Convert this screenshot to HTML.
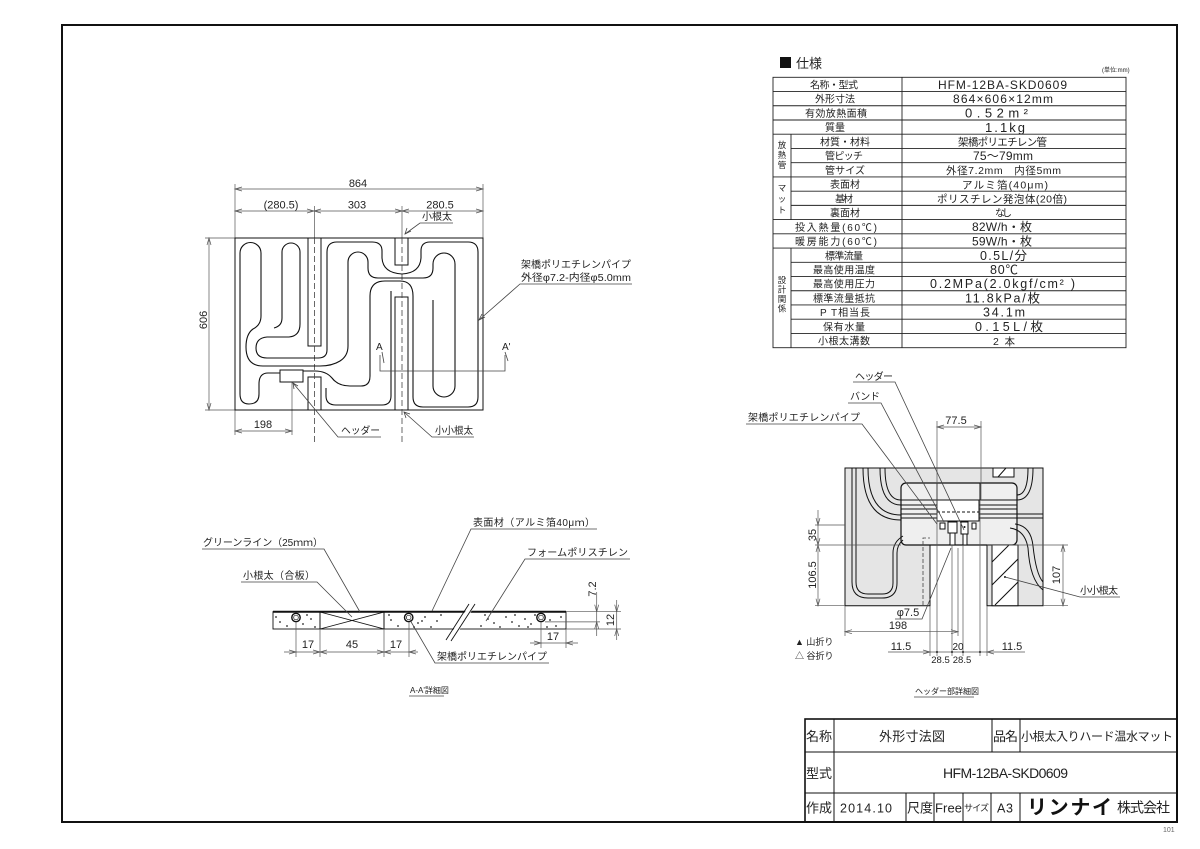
<!DOCTYPE html>
<html><head><meta charset="utf-8">
<style>
html,body{margin:0;padding:0;background:#fff;}
svg{display:block}
text{font-family:"Liberation Sans","Noto Sans CJK JP",sans-serif;fill:#222;}
.d{stroke:#555;stroke-width:0.7;fill:none}
.k{stroke:#111;stroke-width:1;fill:none}
.p{stroke:#111;stroke-width:1.1;fill:none}
.a{stroke:#444;stroke-width:0.8;fill:none}
</style></head><body>
<svg width="1200" height="849" viewBox="0 0 1200 849" xmlns="http://www.w3.org/2000/svg">
<rect x="0" y="0" width="1200" height="849" fill="#fff"/>
<!-- border -->
<rect x="62" y="25" width="1115" height="797" fill="none" stroke="#111" stroke-width="2"/>

<!-- ============ SPEC TABLE ============ -->
<rect x="780" y="57" width="11" height="11" fill="#111"/>
<text x="796" y="68" font-size="13">仕様</text>
<text x="1102" y="72" font-size="6">(単位:mm)</text>
<g stroke="#222" stroke-width="0.9" fill="none">
<rect x="773" y="77.3" width="353" height="270.4"/>
<line x1="902" y1="77.3" x2="902" y2="347.7"/>
<line x1="791" y1="134.22" x2="791" y2="219.6"/>
<line x1="791" y1="248.06" x2="791" y2="347.7"/>
<line x1="773" y1="91.53" x2="1126" y2="91.53"/>
<line x1="773" y1="105.76" x2="1126" y2="105.76"/>
<line x1="773" y1="119.99" x2="1126" y2="119.99"/>
<line x1="773" y1="134.22" x2="1126" y2="134.22"/>
<line x1="791" y1="148.45" x2="1126" y2="148.45"/>
<line x1="791" y1="162.68" x2="1126" y2="162.68"/>
<line x1="773" y1="176.91" x2="1126" y2="176.91"/>
<line x1="791" y1="191.14" x2="1126" y2="191.14"/>
<line x1="791" y1="205.37" x2="1126" y2="205.37"/>
<line x1="773" y1="219.6" x2="1126" y2="219.6"/>
<line x1="773" y1="233.83" x2="1126" y2="233.83"/>
<line x1="773" y1="248.06" x2="1126" y2="248.06"/>
<line x1="791" y1="262.29" x2="1126" y2="262.29"/>
<line x1="791" y1="276.52" x2="1126" y2="276.52"/>
<line x1="791" y1="290.75" x2="1126" y2="290.75"/>
<line x1="791" y1="304.98" x2="1126" y2="304.98"/>
<line x1="791" y1="319.21" x2="1126" y2="319.21"/>
<line x1="791" y1="333.44" x2="1126" y2="333.44"/>
</g>
<g font-size="10" lengthAdjust="spacingAndGlyphs">
<text x="810" y="88.5" textLength="48">名称・型式</text>
<text x="815" y="102.7" textLength="40">外形寸法</text>
<text x="805" y="117" textLength="62">有効放熱面積</text>
<text x="825" y="131.2" textLength="20">質量</text>
<text x="820" y="145.4" textLength="50">材質・材料</text>
<text x="825" y="159.7" textLength="38">管ピッチ</text>
<text x="825" y="173.9" textLength="40">管サイズ</text>
<text x="830" y="188.1" textLength="30">表面材</text>
<text x="835" y="202.3" textLength="18">基材</text>
<text x="830" y="216.6" textLength="30">裏面材</text>
<text x="795" y="230.8" textLength="82">投入熱量(60℃)</text>
<text x="795" y="245.1" textLength="82">暖房能力(60℃)</text>
<text x="825" y="259.3" textLength="38">標準流量</text>
<text x="813" y="273.5" textLength="62">最高使用温度</text>
<text x="813" y="287.7" textLength="62">最高使用圧力</text>
<text x="813" y="302" textLength="62">標準流量抵抗</text>
<text x="820" y="316.2" textLength="50">P T相当長</text>
<text x="823" y="330.4" textLength="42">保有水量</text>
<text x="818" y="344.7" textLength="52">小根太溝数</text>
</g>
<g font-size="8.5" text-anchor="middle">
<text x="782" y="148">放</text><text x="782" y="158">熱</text><text x="782" y="168">管</text>
<text x="782" y="191">マ</text><text x="782" y="202">ッ</text><text x="782" y="213">ト</text>
<text x="782" y="283">設</text><text x="782" y="292.5">計</text><text x="782" y="302">関</text><text x="782" y="311.5">係</text>
</g>
<g font-size="12" lengthAdjust="spacingAndGlyphs">
<text x="938" y="89" textLength="129">HFM-12BA-SKD0609</text>
<text x="953" y="103.2" textLength="100">864×606×12mm</text>
<text x="965" y="117.7" textLength="63" font-size="13">0.52m²</text>
<text x="985" y="131.9" textLength="40" font-size="13">1.1kg</text>
<text x="958" y="145.6" textLength="89" font-size="10.5">架橋ポリエチレン管</text>
<text x="973" y="160.2" textLength="60">75〜79mm</text>
<text x="946" y="174.2" textLength="115" font-size="10.5">外径7.2mm　内径5mm</text>
<text x="962" y="188.4" textLength="86" font-size="10.5">アルミ箔(40μm)</text>
<text x="937" y="202.6" textLength="130" font-size="10.5">ポリスチレン発泡体(20倍)</text>
<text x="995" y="216.7" textLength="17" font-size="10">なし</text>
<text x="972" y="231.2" textLength="60">82W/h・枚</text>
<text x="972" y="245.5" textLength="60">59W/h・枚</text>
<text x="980" y="259.8" textLength="47" font-size="12.5">0.5L/分</text>
<text x="990" y="274" textLength="28" font-size="12.5">80℃</text>
<text x="930" y="288.2" textLength="145" font-size="12.5">0.2MPa(2.0kgf/cm²  )</text>
<text x="965" y="302.5" textLength="75" font-size="12.5">11.8kPa/枚</text>
<text x="983" y="316.7" textLength="42" font-size="12.5">34.1m</text>
<text x="975" y="330.9" textLength="68" font-size="12.5">0.15L/枚</text>
<text x="993" y="345" textLength="22" font-size="10.5">2本</text>
</g>

<!-- ============ PLAN VIEW ============ -->
<g class="d">
<line x1="235" y1="184" x2="235" y2="238"/>
<line x1="483" y1="184" x2="483" y2="238"/>
<line x1="314.5" y1="206" x2="314.5" y2="238"/>
<line x1="402" y1="206" x2="402" y2="238"/>
<line x1="235" y1="189" x2="483" y2="189"/>
<line x1="235" y1="211" x2="483" y2="211"/>
<line x1="205" y1="238" x2="235" y2="238"/>
<line x1="205" y1="410" x2="235" y2="410"/>
<line x1="209" y1="238" x2="209" y2="410"/>
<line x1="235" y1="410" x2="235" y2="435"/>
<line x1="292" y1="382" x2="292" y2="435"/>
<line x1="235" y1="431" x2="292" y2="431"/>
<path d="M242,187 L235,189 L242,191 M476,187 L483,189 L476,191 M242,209 L235,211 L242,213 M307,209 L314,211 L307,213 M321,209 L314,211 L321,213 M395,209 L402,211 L395,213 M409,209 L402,211 L409,213 M476,209 L483,211 L476,213 M207,245 L209,238 L211,245 M207,403 L209,410 L211,403 M242,429 L235,431 L242,433 M285,429 L292,431 L285,433"/>
</g>
<g font-size="11" text-anchor="middle">
<text x="358" y="187">864</text>
<text x="281" y="208.5">(280.5)</text>
<text x="357" y="208.5">303</text>
<text x="440" y="208.5">280.5</text>
<text x="263" y="428">198</text>
<text transform="translate(207,320) rotate(-90)">606</text>
</g>
<rect x="235" y="238" width="248" height="172" class="k" stroke-width="1.2"/>
<g class="k">
<rect x="308" y="238" width="13" height="108"/>
<rect x="308" y="377" width="13" height="33"/>
<rect x="395" y="238" width="13" height="27"/>
<rect x="395" y="297" width="13" height="113"/>
<rect x="280" y="370" width="23" height="12" fill="#fff"/>
</g>
<g stroke="#444" stroke-width="0.8" stroke-dasharray="6,3" fill="none">
<line x1="314.5" y1="238" x2="314.5" y2="442"/>
<line x1="402" y1="238" x2="402" y2="442"/>
</g>
<g class="p">
<path d="M303,371 H315 Q326,371 332,378 Q338,386 350,386 H361 Q370,386 370,376 V296 Q370,281 385,281 H400 Q413,281 413,296 V397 Q413,407 423,407 H468 Q478,407 478,397 V252 Q478,242 468,242 H430 Q421,242 421,251 V258 Q420,273 402,274 Q383,273 382,258 V251 Q382,242 372,242 H337 Q327,242 327,252 V350 Q327,358 318,358 H267 Q256,358 256,348 Q256,338 267,337 H289 Q300,336 300,324 V252 A9,9 0 0 0 282,252 V318 Q282,326 274,328"/>
<path d="M280,373 H268 Q259,373 259,384 V394 Q259,404 249,404 Q240,404 240,394 V253 A10.5,10.5 0 0 1 261,253 V316 Q261,325 253,329 Q246,334 246,347 Q246,366 263,366 H320 Q332,366 340,361 Q348,356 348,346 V262 A10,10 0 0 1 368,262 V268 Q368,278 378,278 H423 Q433,278 433,268 V264 A11,11 0 0 1 455,264 V386 A11,11 0 0 1 433,386 V300"/>
<path d="M326,388 V396 Q326,405 336,405 H382 Q391,405 391,396 V291"/>
</g>
<!-- section mark -->
<g class="a">
<path d="M380,355 V371 H505 V355"/>
<line x1="382" y1="352" x2="384" y2="363"/>
<line x1="505" y1="352" x2="508" y2="361"/>
</g>
<text x="376" y="350" font-size="10">A</text>
<text x="502" y="350" font-size="10">A'</text>
<!-- plan leaders -->
<g class="a">
<path d="M453,223 H420 L405,234"/>
<path d="M407,228 L405,234 L411,231"/>
<path d="M632,284 H520 L479,320"/>
<path d="M482,314 L479,320 L485,317"/>
<path d="M381,437 H338 L293,383"/>
<path d="M294,389 L293,383 L298,386"/>
<path d="M474,437 H432 L404,412"/>
<path d="M406,418 L404,412 L410,414"/>
</g>
<g font-size="10">
<text x="422" y="220">小根太</text>
<text x="521" y="268" textLength="110" lengthAdjust="spacingAndGlyphs">架橋ポリエチレンパイプ</text>
<text x="521" y="281" textLength="110" lengthAdjust="spacingAndGlyphs">外径φ7.2-内径φ5.0mm</text>
<text x="341" y="434" textLength="39" lengthAdjust="spacingAndGlyphs">ヘッダー</text>
<text x="435" y="434" textLength="38" lengthAdjust="spacingAndGlyphs">小小根太</text>
</g>

<!-- ============ SECTION A-A ============ -->
<g>
<rect x="273" y="611.7" width="293" height="17.3" fill="#fff" stroke="#111" stroke-width="0.9"/>
<line x1="273" y1="611.7" x2="566" y2="611.7" stroke="#111" stroke-width="2"/>
<line x1="320" y1="611.7" x2="320" y2="629" stroke="#111"/>
<line x1="384" y1="611.7" x2="384" y2="629" stroke="#111"/>
<line x1="320" y1="612" x2="384" y2="629" stroke="#111" stroke-width="0.8"/>
<line x1="320" y1="629" x2="384" y2="612" stroke="#111" stroke-width="0.8"/>
<polygon points="447,640 470,604 476,604 453,640" fill="#fff"/>
<line x1="446" y1="640" x2="469" y2="604" stroke="#111" stroke-width="0.9"/>
<line x1="451" y1="641" x2="475" y2="604" stroke="#111" stroke-width="0.9"/>
<g fill="#222">
<circle cx="280" cy="622" r="0.9"/><circle cx="287" cy="626" r="0.9"/><circle cx="303" cy="624" r="0.9"/><circle cx="311" cy="619" r="0.9"/><circle cx="315" cy="627" r="0.9"/><circle cx="391" cy="620" r="0.9"/><circle cx="398" cy="626" r="0.9"/><circle cx="418" cy="623" r="0.9"/><circle cx="425" cy="617" r="0.9"/><circle cx="431" cy="627" r="0.9"/><circle cx="437" cy="621" r="0.9"/><circle cx="481" cy="626" r="0.9"/><circle cx="488" cy="619" r="0.9"/><circle cx="494" cy="623" r="0.9"/><circle cx="500" cy="627" r="0.9"/><circle cx="506" cy="617" r="0.9"/><circle cx="512" cy="622" r="0.9"/><circle cx="519" cy="626" r="0.9"/><circle cx="525" cy="619" r="0.9"/><circle cx="531" cy="624" r="0.9"/><circle cx="550" cy="620" r="0.9"/><circle cx="556" cy="626" r="0.9"/><circle cx="561" cy="617" r="0.9"/><circle cx="276" cy="617" r="0.9"/><circle cx="307" cy="615" r="0.9"/><circle cx="389" cy="615" r="0.9"/><circle cx="414" cy="627" r="0.9"/><circle cx="441" cy="615" r="0.9"/><circle cx="485" cy="615" r="0.9"/><circle cx="515" cy="615" r="0.9"/><circle cx="528" cy="627" r="0.9"/><circle cx="535" cy="615" r="0.9"/><circle cx="547" cy="627" r="0.9"/><circle cx="422" cy="621" r="0.9"/>
</g>
<g stroke="#111" fill="#fff">
<circle cx="296" cy="617.5" r="4.2" stroke-width="1.4"/>
<circle cx="408.7" cy="617.5" r="4.2" stroke-width="1.4"/>
<circle cx="541" cy="617.5" r="4.2" stroke-width="1.4"/>
<circle cx="296" cy="617.5" r="2.3" stroke-width="0.7"/>
<circle cx="408.7" cy="617.5" r="2.3" stroke-width="0.7"/>
<circle cx="541" cy="617.5" r="2.3" stroke-width="0.7"/>
</g>
</g>
<g class="d">
<line x1="296" y1="622" x2="296" y2="657"/>
<line x1="320" y1="629" x2="320" y2="657"/>
<line x1="384" y1="629" x2="384" y2="657"/>
<line x1="409" y1="622" x2="409" y2="657"/>
<line x1="284" y1="652" x2="418" y2="652"/>
<line x1="541" y1="622" x2="541" y2="648"/>
<line x1="566" y1="629" x2="566" y2="648"/>
<line x1="530" y1="643" x2="578" y2="643"/>
<line x1="566" y1="611.7" x2="621" y2="611.7"/>
<line x1="545" y1="621.9" x2="600" y2="621.9"/>
<line x1="566" y1="629" x2="621" y2="629"/>
<line x1="596.7" y1="592" x2="596.7" y2="636"/>
<line x1="616.7" y1="600" x2="616.7" y2="640"/>
<path d="M289,650 L296,652 L289,654 M327,650 L320,652 L327,654 M313,650 L320,652 L313,654 M391,650 L384,652 L391,654 M377,650 L384,652 L377,654 M416,650 L409,652 L416,654 M534,641 L541,643 L534,645 M573,641 L566,643 L573,645 M594.7,604.7 L596.7,611.7 L598.7,604.7 M594.7,628.9 L596.7,621.9 L598.7,628.9 M614.7,604.7 L616.7,611.7 L618.7,604.7 M614.7,636 L616.7,629 L618.7,636"/>
</g>
<g font-size="11" text-anchor="middle">
<text x="308" y="648">17</text>
<text x="352" y="648">45</text>
<text x="396" y="648">17</text>
<text x="553" y="640">17</text>
<text transform="translate(596,589) rotate(-90)">7.2</text>
<text transform="translate(614,620) rotate(-90)">12</text>
</g>
<g class="a">
<path d="M202,549 H324 L360,612"/>
<path d="M241,582 H317 L352,617"/>
<path d="M597,529 H471 L432,611"/>
<path d="M630,559 H525 L486,621"/>
<path d="M549,663 H435 L410,620"/>
<line x1="409" y1="696" x2="444" y2="696"/>
</g>
<g font-size="10" lengthAdjust="spacingAndGlyphs">
<text x="203" y="546" textLength="120">グリーンライン（25ｍｍ）</text>
<text x="243" y="579" textLength="72">小根太（合板）</text>
<text x="473" y="526" textLength="122">表面材（アルミ箔40μｍ）</text>
<text x="527" y="556" textLength="101">フォームポリスチレン</text>
<text x="437" y="660" textLength="110">架橋ポリエチレンパイプ</text>
</g>
<text x="410" y="693" font-size="8">A-A'詳細図</text>

<!-- ============ HEADER DETAIL ============ -->
<path d="M845,468 H1043 V605.7 H987 V545 H930 V605.7 H845 Z" fill="#e5e5e5" stroke="#111" stroke-width="1"/>
<rect x="901" y="483" width="116" height="62" rx="5" fill="#efefef" stroke="#111" stroke-width="1.2"/>
<g class="k" stroke-width="0.9">
<path d="M852,468 V582 Q852,598 868,598 H882 Q897,598 897,583 V553 Q897,545 903,540"/>
<path d="M856,468 V582 Q856,594 868,594 H882 Q893,594 893,583 V553 Q893,542 903,536"/>
<path d="M863,468 Q863,520 901,520"/>
<path d="M868,468 Q868,515 901,515"/>
<path d="M880,468 Q880,505 901,505"/>
<path d="M885,468 Q885,500 901,500"/>
<line x1="901" y1="505" x2="1017" y2="505"/>
<line x1="901" y1="509" x2="1017" y2="509"/>
<line x1="901" y1="514" x2="1017" y2="514"/>
<line x1="901" y1="518" x2="1017" y2="518"/>
<path d="M1017,500 Q1033,500 1033,468"/>
<path d="M1017,495 Q1028,495 1028,468"/>
<line x1="1017" y1="514" x2="1043" y2="514"/>
<line x1="1017" y1="518" x2="1043" y2="518"/>
<path d="M1010,528 Q1025,530 1028,548 Q1030,580 1043,590"/>
<path d="M1015,524 Q1031,526 1033,546 Q1036,574 1043,582"/>
<line x1="901" y1="500" x2="1017" y2="500"/>
<line x1="937" y1="483" x2="937" y2="500"/>
<line x1="980" y1="483" x2="980" y2="500"/>
<rect x="937" y="500" width="42" height="21" fill="#fff"/>
<line x1="937" y1="512" x2="979" y2="512" stroke-dasharray="3,2"/>
<rect x="940" y="523" width="5" height="6" fill="#fff"/>
<rect x="948" y="522" width="9" height="11" fill="#fff"/>
<rect x="950" y="533" width="5" height="12" fill="#fff"/>
<rect x="961" y="522" width="7" height="12" fill="#fff"/>
<rect x="963" y="534" width="4" height="11" fill="#fff"/>
<rect x="972" y="523" width="4" height="6" fill="#fff"/>
<rect x="992" y="545" width="26" height="60.7" fill="#fff"/>
<line x1="992" y1="562" x2="1009" y2="545"/>
<line x1="992" y1="585" x2="1018" y2="559"/>
<line x1="995" y1="605" x2="1018" y2="582"/>
<rect x="993" y="468" width="21" height="9" fill="#fff"/>
<line x1="998" y1="477" x2="1006" y2="468"/>
</g>
<circle cx="964.5" cy="527" r="1" fill="#111"/>
<circle cx="1005" cy="577" r="1" fill="#111"/>
<path d="M923,605 V538 H930" stroke="#444" stroke-width="0.8" stroke-dasharray="4,2" fill="none"/>
<!-- header dims -->
<g class="d">
<line x1="937" y1="421" x2="937" y2="500"/>
<line x1="981" y1="421" x2="981" y2="500"/>
<line x1="937" y1="427" x2="981" y2="427"/>
<line x1="815" y1="525" x2="845" y2="525"/>
<line x1="815" y1="545" x2="901" y2="545"/>
<line x1="815" y1="605.7" x2="845" y2="605.7"/>
<line x1="818" y1="510" x2="818" y2="606"/>
<line x1="987" y1="545" x2="1068" y2="545"/>
<line x1="1043" y1="605.7" x2="1068" y2="605.7"/>
<line x1="1063" y1="545" x2="1063" y2="606"/>
<line x1="845" y1="606" x2="845" y2="636"/>
<line x1="958" y1="548" x2="958" y2="636"/>
<line x1="845" y1="631.7" x2="958" y2="631.7"/>
<line x1="930" y1="606" x2="930" y2="656"/>
<line x1="937" y1="500" x2="937" y2="656"/>
<line x1="952" y1="545" x2="952" y2="656"/>
<line x1="963" y1="545" x2="963" y2="656"/>
<line x1="980" y1="500" x2="980" y2="656"/>
<line x1="987" y1="606" x2="987" y2="656"/>
<line x1="888" y1="652" x2="1025" y2="652"/>
<path d="M944,425 L937,427 L944,429 M974,425 L981,427 L974,429 M816,518 L818,525 L820,518 M816,552 L818,545 L820,552 M816,538 L818,545 L820,538 M816,598.7 L818,605.7 L820,598.7 M1061,552 L1063,545 L1065,552 M1061,598.7 L1063,605.7 L1065,598.7 M852,629.7 L845,631.7 L852,633.7 M951,629.7 L958,631.7 L951,633.7 M923,650 L930,652 L923,654 M994,650 L987,652 L994,654"/>
</g>
<g fill="#222"><circle cx="937" cy="652" r="1"/><circle cx="952" cy="652" r="1"/><circle cx="963" cy="652" r="1"/><circle cx="980" cy="652" r="1"/></g>
<g class="a">
<path d="M853,382 H895 L964,530"/>
<path d="M848,403 H881 L944,522"/>
<path d="M746,424 H862 L937,524"/>
<path d="M895,619 H922 L951,548"/>
<path d="M1005,577 L1080,597 H1120"/>
<line x1="914" y1="697" x2="974" y2="697"/>
</g>
<g font-size="11" text-anchor="middle">
<text x="956" y="424">77.5</text>
<text x="898" y="629">198</text>
<text transform="translate(816,535) rotate(-90)">35</text>
<text transform="translate(816,575) rotate(-90)">106.5</text>
<text transform="translate(1060,575) rotate(-90)">107</text>
<text x="901" y="650">11.5</text>
<text x="1012" y="650">11.5</text>
<text x="958" y="650" font-size="10">20</text>
<text x="940.5" y="663" font-size="9.5">28.5</text>
<text x="962" y="663" font-size="9.5">28.5</text>
<text x="908" y="616">φ7.5</text>
</g>
<g font-size="10" lengthAdjust="spacingAndGlyphs">
<text x="855" y="380" textLength="38">ヘッダー</text>
<text x="850" y="400" textLength="30">バンド</text>
<text x="748" y="421" textLength="112">架橋ポリエチレンパイプ</text>
<text x="1080" y="594" textLength="38">小小根太</text>
</g>
<text x="795" y="645" font-size="9">▲ 山折り</text>
<text x="795" y="659" font-size="9">△ 谷折り</text>
<text x="915" y="694" font-size="8">ヘッダー部詳細図</text>

<!-- ============ TITLE BLOCK ============ -->
<g stroke="#111" fill="none">
<rect x="805" y="719" width="372" height="103" stroke-width="1.6"/>
<line x1="805" y1="752" x2="1177" y2="752" stroke-width="1"/>
<line x1="805" y1="793" x2="1177" y2="793" stroke-width="1"/>
<line x1="834" y1="719" x2="834" y2="822" stroke-width="1"/>
<line x1="992" y1="719" x2="992" y2="752" stroke-width="1"/>
<line x1="1020" y1="719" x2="1020" y2="752" stroke-width="1"/>
<line x1="906" y1="793" x2="906" y2="822" stroke-width="1"/>
<line x1="934" y1="793" x2="934" y2="822" stroke-width="1"/>
<line x1="963" y1="793" x2="963" y2="822" stroke-width="1"/>
<line x1="991" y1="793" x2="991" y2="822" stroke-width="1"/>
<line x1="1020" y1="793" x2="1020" y2="822" stroke-width="1"/>
</g>
<g font-size="13" lengthAdjust="spacingAndGlyphs">
<text x="806" y="741" textLength="26">名称</text>
<text x="879" y="741" textLength="66">外形寸法図</text>
<text x="993" y="741" textLength="25">品名</text>
<text x="1021" y="740.5" textLength="152" font-size="12">小根太入りハード温水マット</text>
<text x="806" y="778" textLength="26">型式</text>
<text x="943" y="778" textLength="125" font-size="14">HFM-12BA-SKD0609</text>
<text x="806" y="812.5" textLength="26">作成</text>
<text x="840" y="812.5" textLength="52" font-size="12.5">2014.10</text>
<text x="907" y="812.5" textLength="26">尺度</text>
<text x="935" y="812.5" textLength="27">Free</text>
<text x="964" y="811" textLength="25" font-size="9">サイズ</text>
<text x="997" y="812.5" textLength="16" font-size="12.5">A3</text>
<text x="1027" y="814" textLength="85" font-size="20" font-weight="bold" style="fill:#111">リンナイ</text>
<text x="1117" y="812.5" textLength="53" font-size="14">株式会社</text>
</g>
<text x="1163" y="832" font-size="7" style="fill:#666">101</text>
</svg>
</body></html>
